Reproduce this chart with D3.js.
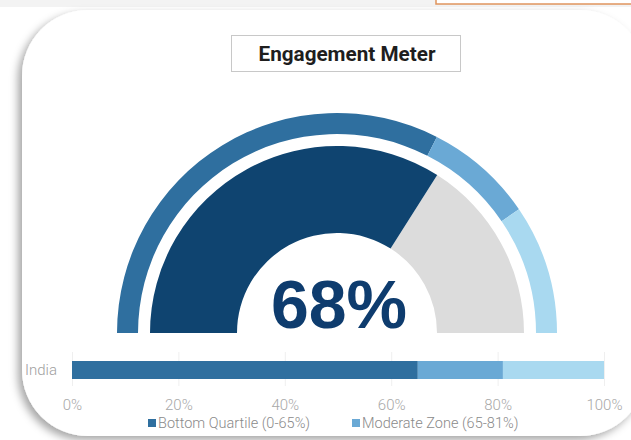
<!DOCTYPE html>
<html>
<head>
<meta charset="utf-8">
<script src="https://cdn.jsdelivr.net/npm/d3@7"></script>
<style>
  body { margin: 0; background: #fff; }
  svg { display: block; font-family: Roboto, "Open Sans", sans-serif; }
</style>
</head>
<body>
<svg width="631" height="440"></svg>
<script>
var title = "Engagement Meter";
var score = 68;
var zoneNames = ["Bottom Quartile (0-65%)", "Moderate Zone (65-81%)", "Top Zone (81-100%)"];
var zoneStops = [0, 65, 81, 100];
var zoneColors = ["#2f6f9f", "#6aa9d5", "#a9d9f0"];
var countries = ["India"];
var tickValues = [0, 20, 40, 60, 80, 100];

var svg = d3.select("svg"),
    width = +svg.attr("width"),
    height = +svg.attr("height");

var defs = svg.append("defs");
var shadow = defs.append("filter").attr("id", "shadow")
    .attr("x", "-10%").attr("y", "-10%").attr("width", "120%").attr("height", "120%");
shadow.append("feDropShadow")
    .attr("dx", -4).attr("dy", 4).attr("stdDeviation", 4)
    .attr("flood-color", "#000").attr("flood-opacity", 0.35);

// top strip and orange box
svg.append("rect").attr("x", 0).attr("y", 0).attr("width", width).attr("height", 7).attr("fill", "#f3f3f3");
svg.append("rect").attr("x", 436).attr("y", -10).attr("width", 200).attr("height", 14)
    .attr("fill", "#fff").attr("stroke", "#e0955e").attr("stroke-width", 1.5);

// card
svg.append("rect")
    .attr("x", 22).attr("y", 10).attr("width", 624).attr("height", 426)
    .attr("rx", 66).attr("ry", 66)
    .attr("fill", "#fff")
    .attr("filter", "url(#shadow)");

// title box
svg.append("rect")
    .attr("x", 231.5).attr("y", 35.5).attr("width", 229).attr("height", 36)
    .attr("fill", "#fff").attr("stroke", "#c8c8c8");
svg.append("text")
    .attr("x", 347).attr("y", 54)
    .attr("text-anchor", "middle").attr("dominant-baseline", "central")
    .attr("font-size", 20).attr("font-weight", "bold").attr("fill", "#1e1e1e")
    .attr("textLength", 177).attr("lengthAdjust", "spacingAndGlyphs")
    .text(title);

// gauge
var cx = 337, cy = 333;
var angle = d3.scaleLinear().domain([0, 100]).range([-Math.PI / 2, Math.PI / 2]);
var g = svg.append("g").attr("transform", "translate(" + cx + "," + cy + ")");

var zones = zoneColors.map(function(c, i) { return {from: zoneStops[i], to: zoneStops[i + 1], color: c}; });
var outerArc = d3.arc().innerRadius(199).outerRadius(220);
g.selectAll(".zone")
  .data(zones)
  .enter().append("path")
    .attr("class", "zone")
    .attr("fill", function(d) { return d.color; })
    .attr("d", function(d) { return outerArc({startAngle: angle(d.from), endAngle: angle(d.to)}); });

var innerArc = d3.arc().innerRadius(100).outerRadius(187);
g.append("path")
    .attr("fill", "#dcdcdc")
    .attr("d", innerArc({startAngle: angle(score), endAngle: angle(100)}));
g.append("path")
    .attr("fill", "#0f4470")
    .attr("d", innerArc({startAngle: angle(0), endAngle: angle(score)}));

g.append("text")
    .attr("x", 2).attr("y", -5)
    .attr("text-anchor", "middle")
    .attr("font-family", "'Liberation Sans', Arial, sans-serif")
    .attr("font-size", 68).attr("font-weight", "bold").attr("fill", "#0e3c6e")
    .text(score + "%");

// bar
var x = d3.scaleLinear().domain([0, 100]).range([72, 604]);
var y = d3.scaleBand().domain(countries).range([361, 379]);

svg.append("g")
  .selectAll("line")
  .data(tickValues)
  .enter().append("line")
    .attr("x1", function(d) { return x(d) + 0.5; })
    .attr("x2", function(d) { return x(d) + 0.5; })
    .attr("y1", 352).attr("y2", 386)
    .attr("stroke", "#efefef");

countries.forEach(function(c) {
  svg.append("g")
    .selectAll("rect")
    .data(zones)
    .enter().append("rect")
      .attr("x", function(d) { return x(d.from); })
      .attr("width", function(d) { return x(d.to) - x(d.from); })
      .attr("y", y(c))
      .attr("height", y.bandwidth())
      .attr("fill", function(d) { return d.color; });
  svg.append("text")
    .attr("x", 57).attr("y", y(c) + y.bandwidth() / 2)
    .attr("text-anchor", "end").attr("dominant-baseline", "central")
    .attr("font-size", 15).attr("font-weight", 300).attr("fill", "#a0a0a0")
    .text(c);
});

var axis = d3.axisBottom(x)
    .tickValues(tickValues)
    .tickFormat(function(d) { return d + "%"; })
    .tickSize(0).tickPadding(0);
var ax = svg.append("g").attr("transform", "translate(0,399)").call(axis);
ax.select(".domain").remove();
ax.selectAll("text")
    .attr("font-family", "Roboto, sans-serif")
    .attr("font-size", 15).attr("font-weight", 300).attr("fill", "#a8a8a8");

// legend
var legendX = [148, 352];
var legend = svg.append("g")
  .selectAll("g")
  .data(zoneNames.slice(0, 2))
  .enter().append("g")
    .attr("transform", function(d, i) { return "translate(" + legendX[i] + ",423)"; });
legend.append("rect")
    .attr("x", 0).attr("y", -4).attr("width", 8).attr("height", 8)
    .attr("fill", function(d, i) { return zoneColors[i]; });
legend.append("text")
    .attr("x", 10).attr("y", 0)
    .attr("dominant-baseline", "central")
    .attr("font-size", 14.5).attr("font-weight", 300).attr("fill", "#8a8a8a")
    .text(function(d) { return d; });
</script>
</body>
</html>
